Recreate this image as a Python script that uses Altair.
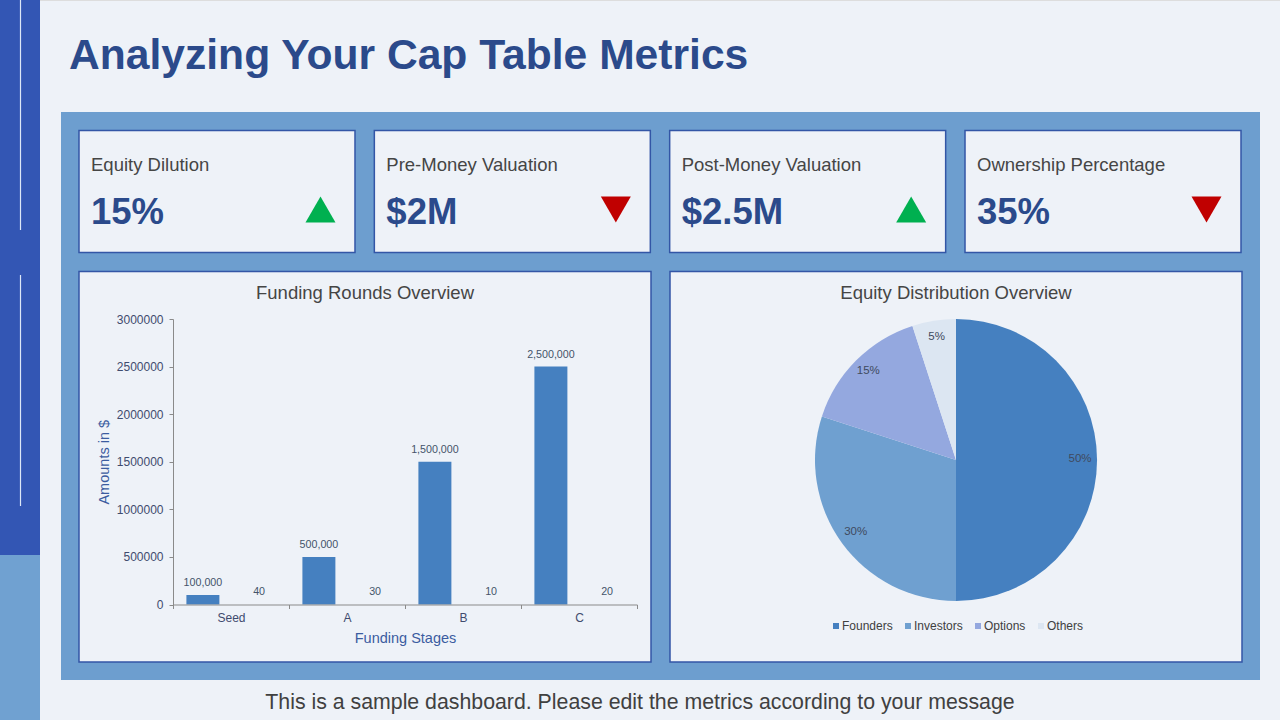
import altair as alt
import pandas as pd

# ---- KPI cards ----
kpi_names = ["Equity Dilution", "Pre-Money Valuation", "Post-Money Valuation", "Ownership Percentage"]
kpi_values = ["15%", "$2M", "$2.5M", "35%"]
kpi_trends = ["up", "down", "up", "down"]

# ---- Funding rounds (two series per stage) ----
stages = ["Seed", "A", "B", "C"]
series_names = ["Amount", "Stake"]
amounts = [100000, 500000, 1500000, 2500000]
stakes = [40, 30, 10, 20]

# ---- Equity distribution ----
holders = ["Founders", "Investors", "Options", "Others"]
shares = [50, 30, 15, 5]

FONT = "Liberation Sans"
BG = "#EEF2F8"
PANEL = "#6D9ECF"
BORDER = "#3356A6"
NAVY = "#2B4A8B"
STRIP = "#3356B4"
STRIP_LIGHT = "#70A1D1"
BAR = "#4580C0"
PIE_COLORS = ["#4580C0", "#6FA0D0", "#94A8DF", "#DCE6F2"]
GREY_TEXT = "#454545"

one = alt.Data(values=[{"k": 0}])


def box(x1, y1, x2, y2, fill, stroke=None, sw=0):
    kw = {"fill": fill}
    if stroke:
        kw.update(stroke=stroke, strokeWidth=sw)
    return alt.Chart(one).mark_rect(**kw).encode(
        x=alt.value(x1), x2=alt.value(x2), y=alt.value(y1), y2=alt.value(y2)
    )


def rule(x, y1, y2, color, width):
    return alt.Chart(one).mark_rule(color=color, strokeWidth=width).encode(
        x=alt.value(x), y=alt.value(y1), y2=alt.value(y2)
    )


def label(text, x, y, size, color, weight="normal", align="left"):
    return alt.Chart(one).mark_text(
        text=text, font=FONT, fontSize=size, fontWeight=weight, color=color,
        align=align, baseline="alphabetic"
    ).encode(x=alt.value(x), y=alt.value(y))


# ---- page furniture ----
decor = [
    box(0, 0, 40, 555, STRIP),
    box(0, 555, 40, 720, STRIP_LIGHT),
    rule(20.5, 0, 230, "#DCE7F7", 1.2),
    rule(20.5, 275, 506, "#DCE7F7", 1.2),
    box(61, 112, 1260, 680, PANEL),
    box(79, 271.5, 651, 662, BG, BORDER, 1.5),
    box(670, 271.5, 1242, 662, BG, BORDER, 1.5),
]

texts = [
    label("Analyzing Your Cap Table Metrics", 69, 69, 42.6, NAVY, "bold"),
    label("Funding Rounds Overview", 365, 298.5, 18.5, GREY_TEXT, align="center"),
    label("Equity Distribution Overview", 956, 298.5, 18.5, GREY_TEXT, align="center"),
    label("This is a sample dashboard. Please edit the metrics according to your message",
          640, 709, 21.3, "#404040", align="center"),
]

# ---- KPI layer ----
kpi_df = pd.DataFrame({"metric": kpi_names, "value": kpi_values, "trend": kpi_trends})
kpi_scale = alt.Scale(domain=kpi_names, range=[79, 1241], paddingInner=0.0655, paddingOuter=0)


def kx(band_pos=None):
    kw = {}
    if band_pos is not None:
        kw["bandPosition"] = band_pos
    return alt.X("metric:N", sort=kpi_names, scale=kpi_scale, axis=None, **kw)


kpi_base = alt.Chart(kpi_df)
cards = kpi_base.mark_rect(fill=BG, stroke=BORDER, strokeWidth=1.5).encode(
    x=kx(), y=alt.value(130.5), y2=alt.value(252.5)
)
kpi_names_txt = kpi_base.mark_text(
    align="left", baseline="alphabetic", font=FONT, fontSize=18.5, color=GREY_TEXT, dx=12
).encode(x=kx(0), y=alt.value(170.5), text="metric:N")
kpi_vals_txt = kpi_base.mark_text(
    align="left", baseline="alphabetic", font=FONT, fontSize=36.5, fontWeight="bold", color=NAVY, dx=12
).encode(x=kx(0), y=alt.value(223.5), text="value:N")
kpi_tris = kpi_base.mark_point(filled=True, size=900, opacity=1, strokeWidth=0).encode(
    x=kx(0.875),
    y=alt.value(209.5),
    shape=alt.Shape("trend:N", scale=alt.Scale(domain=["up", "down"], range=["triangle-up", "triangle-down"]), legend=None),
    color=alt.Color("trend:N", scale=alt.Scale(domain=["up", "down"], range=["#00B050", "#C00000"]), legend=None),
)
kpi = alt.layer(cards, kpi_names_txt, kpi_vals_txt, kpi_tris)

# ---- funding rounds bar chart ----
bar_rows = []
for s, a, k in zip(stages, amounts, stakes):
    bar_rows.append({"stage": s, "series": series_names[0], "amount": a})
    bar_rows.append({"stage": s, "series": series_names[1], "amount": k})
bar_df = pd.DataFrame(bar_rows)

AX_LABEL = "#3F4B6E"
AX_TITLE = "#3B5CA0"
AX_LINE = "#8A8A8A"

bx = alt.X(
    "stage:N", sort=stages, title="Funding Stages",
    scale=alt.Scale(range=[173, 637], paddingInner=0, paddingOuter=0),
    axis=alt.Axis(
        orient="bottom", offset=-115.5, tickBand="extent", labelAngle=0, zindex=2,
        labelFont=FONT, labelFontSize=12, labelColor=AX_LABEL, labelPadding=4,
        tickSize=4, tickColor=AX_LINE, domainColor=AX_LINE, grid=False,
        titleFont=FONT, titleFontSize=14.5, titleFontWeight="normal", titleColor=AX_TITLE,
        titlePadding=8,
    ),
)
bxo = alt.XOffset("series:N", sort=series_names,
                  scale=alt.Scale(paddingInner=0.413, paddingOuter=0.2385))
by = alt.Y(
    "amount:Q", title="Amounts in $",
    scale=alt.Scale(domain=[0, 3000000], range=[604.5, 319], nice=False, zero=True),
    axis=alt.Axis(
        orient="left", offset=-173, values=[0, 500000, 1000000, 1500000, 2000000, 2500000, 3000000],
        format="d", zindex=2, labelFont=FONT, labelFontSize=12, labelColor=AX_LABEL, labelPadding=6,
        tickSize=4, tickColor=AX_LINE, domainColor=AX_LINE, grid=False,
        titleFont=FONT, titleFontSize=14.5, titleFontWeight="normal", titleColor=AX_TITLE,
        titlePadding=5,
    ),
)
bar_base = alt.Chart(bar_df)
bars = bar_base.mark_bar(color=BAR).encode(x=bx, xOffset=bxo, y=by)
bar_labels = bar_base.mark_text(
    baseline="middle", font=FONT, fontSize=10.7, color="#44546A", dy=-12
).encode(x=bx, xOffset=bxo, y=by, text=alt.Text("amount:Q", format=","))
bar_chart = alt.layer(bars, bar_labels)

# ---- equity distribution pie ----
pie_df = pd.DataFrame({"holder": holders, "share": shares})
pie_df["pct"] = pie_df["share"].astype(str) + "%"
pie_color = alt.Color(
    "holder:N", sort=holders,
    scale=alt.Scale(domain=holders, range=PIE_COLORS),
    legend=alt.Legend(
        title=None, orient="none", legendX=830, legendY=620, direction="horizontal",
        symbolType="square", symbolSize=36, symbolStrokeWidth=0,
        labelFont=FONT, labelFontSize=12, labelColor="#404040", labelOffset=0,
        columnPadding=9, padding=0,
    ),
)
pie_theta = alt.Theta("share:Q", stack=True)
pie_base = alt.Chart(pie_df)
arcs = pie_base.mark_arc(radius=141).encode(
    theta=pie_theta, color=pie_color, order=alt.Order("share:Q", sort="descending"),
    x=alt.value(956), y=alt.value(460),
)
pie_labels = pie_base.mark_text(
    radius=124, font=FONT, fontSize=11.5, color="#404A5E"
).encode(
    theta=pie_theta, order=alt.Order("share:Q", sort="descending"),
    text="pct:N", x=alt.value(956), y=alt.value(459),
)
pie = alt.layer(arcs, pie_labels)

chart = alt.layer(*decor, kpi, bar_chart, pie, *texts).resolve_scale(
    x="independent", y="independent", color="independent", shape="independent", theta="independent"
).properties(
    width=1280, height=720, autosize=alt.AutoSizeParams(type="none"), padding=0, background=BG
).configure_view(stroke=None).configure(font=FONT)

chart.save("out.html", embed_options={"renderer": "svg", "actions": False})
